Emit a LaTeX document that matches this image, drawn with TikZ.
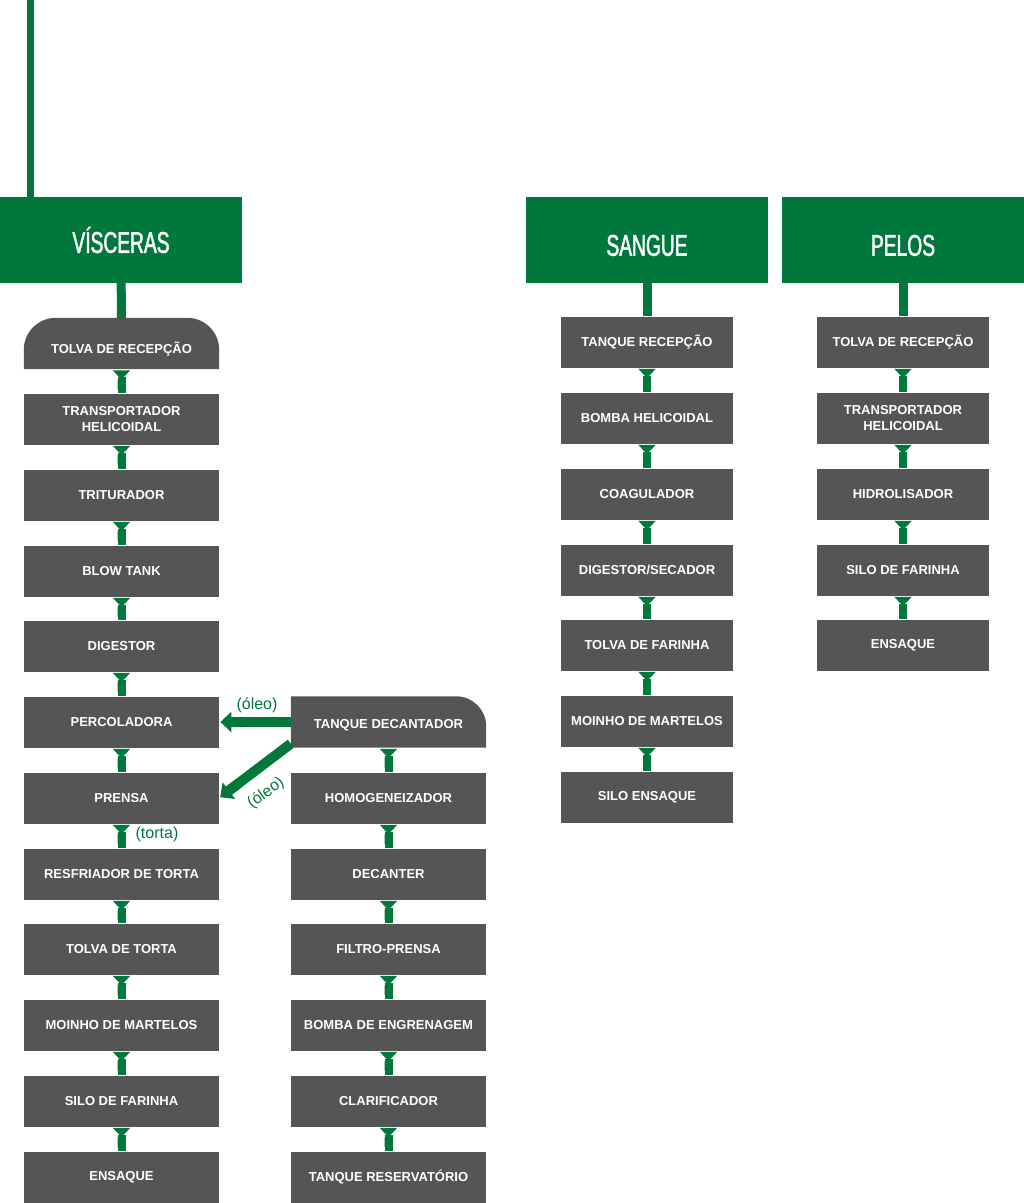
\documentclass[tikz,border=0pt]{standalone}
\usepackage{fontspec}
\setmainfont{Liberation Sans}
\newfontfamily\headfont[FakeStretch=0.64,FakeBold=1.5]{Liberation Sans}
\usetikzlibrary{arrows.meta,backgrounds}
\definecolor{headgreen}{RGB}{0,119,59}
\definecolor{boxgray}{RGB}{85,85,85}

\begin{document}
\begin{tikzpicture}[x=1pt, y=-1pt,
    head/.style={rectangle, fill=headgreen, text=white, minimum width=242pt, minimum height=86pt, inner sep=0pt, font=\headfont\fontsize{30}{32}\selectfont},
    box/.style={rectangle, fill=boxgray, text=white, minimum width=195pt, minimum height=51pt, inner sep=0pt, align=center, font=\bfseries\fontsize{13}{16}\selectfont},
    narrow/.style={box, minimum width=172pt},
    stem/.style={draw=headgreen, line width=9pt},
    link/.style={draw=headgreen, line width=8pt, {Triangle[reversed,length=9pt,width=17pt,sep=1.2pt] Triangle Cap[reversed]}-},
    oil/.style={draw=headgreen, line width=10pt, -{Triangle Cap[reversed] Triangle[length=11pt,width=20pt,sep=1.2pt]}},
    note/.style={text=headgreen, font=\fontsize{16}{18}\selectfont, inner sep=0pt}
]
\useasboundingbox (0,0) rectangle (1024,1203);

% Header boxes
\node[head] (visceras) at (121,240) {VÍSCERAS};
\node[head, text height=31.5pt, text depth=0pt] (sangue) at (647,240) {SANGUE};
\node[head, text height=31.5pt, text depth=0pt] (pelos) at (903,240) {PELOS};

% Visceras line
\node[box, fill=none, text height=22.5pt, text depth=3pt] (v1) at (121.5,343.5) {TOLVA DE RECEPÇÃO};
\node[box] (v2) at (121.5,419) {TRANSPORTADOR\\HELICOIDAL};
\node[box] (v3) at (121.5,495) {TRITURADOR};
\node[box] (v4) at (121.5,571) {BLOW TANK};
\node[box] (v5) at (121.5,646) {DIGESTOR};
\node[box] (v6) at (121.5,722) {PERCOLADORA};
\node[box] (v7) at (121.5,798) {PRENSA};
\node[box] (v8) at (121.5,874) {RESFRIADOR DE TORTA};
\node[box] (v9) at (121.5,949) {TOLVA DE TORTA};
\node[box] (v10) at (121.5,1025) {MOINHO DE MARTELOS};
\node[box] (v11) at (121.5,1101) {SILO DE FARINHA};
\node[box] (v12) at (121.5,1177) {ENSAQUE};

% Oil line
\node[box, fill=none, text height=16.5pt, text depth=3pt] (o1) at (388.5,722) {TANQUE DECANTADOR};
\node[box] (o2) at (388.5,798) {HOMOGENEIZADOR};
\node[box] (o3) at (388.5,874) {DECANTER};
\node[box] (o4) at (388.5,949) {FILTRO-PRENSA};
\node[box] (o5) at (388.5,1025) {BOMBA DE ENGRENAGEM};
\node[box] (o6) at (388.5,1101) {CLARIFICADOR};
\node[box] (o7) at (388.5,1177) {TANQUE RESERVATÓRIO};

% Sangue line
\node[narrow] (s1) at (647,342) {TANQUE RECEPÇÃO};
\node[narrow] (s2) at (647,418) {BOMBA HELICOIDAL};
\node[narrow] (s3) at (647,494) {COAGULADOR};
\node[narrow] (s4) at (647,570) {DIGESTOR/SECADOR};
\node[narrow] (s5) at (647,645) {TOLVA DE FARINHA};
\node[narrow] (s6) at (647,721) {MOINHO DE MARTELOS};
\node[narrow] (s7) at (647,797) {SILO ENSAQUE};

% Pelos line
\node[narrow] (p1) at (903,342) {TOLVA DE RECEPÇÃO};
\node[narrow] (p2) at (903,418) {TRANSPORTADOR\\HELICOIDAL};
\node[narrow] (p3) at (903,494) {HIDROLISADOR};
\node[narrow] (p4) at (903,570) {SILO DE FARINHA};
\node[narrow] (p5) at (903,645) {ENSAQUE};

% Rounded tops
\begin{scope}[on background layer]
\fill[boxgray] (v1.south west) -- ([yshift=-32pt]v1.north west) arc[start angle=180, end angle=90, radius=32pt]
    -- ([xshift=-32pt]v1.north east) arc[start angle=90, end angle=0, radius=32pt] -- (v1.south east) -- cycle;
\fill[boxgray] (o1.south west) -- (o1.north west) -- ([xshift=-30pt]o1.north east)
    arc[start angle=90, end angle=0, radius=30pt] -- (o1.south east) -- cycle;
\end{scope}

% Feed line and stems
\coordinate (feed) at (30.5,0);
\draw[headgreen, line width=7pt] (feed) -- (feed |- visceras.north);
\draw[stem] (visceras) -- (v1);
\draw[stem] (sangue) -- (s1);
\draw[stem] (pelos) -- (p1);

% Links
\foreach \a/\b in {v1/v2, v2/v3, v3/v4, v4/v5, v5/v6, v6/v7, v7/v8, v8/v9, v9/v10, v10/v11, v11/v12,
    o1/o2, o2/o3, o3/o4, o4/o5, o5/o6, o6/o7,
    s1/s2, s2/s3, s3/s4, s4/s5, s5/s6, s6/s7,
    p1/p2, p2/p3, p3/p4, p4/p5}
  \draw[link] (\a) -- (\b);

% Oil returns
\draw[oil] (o1.west) -- (v6.east);
\draw[oil] ([yshift=4pt]o1.south west) -- (v7.east);

% Labels
\node[note] (oleoa) at (257,705) {(óleo)};
\node[note, rotate=36] (oleob) at (266,793) {(óleo)};
\node[note] (torta) at (157,834) {(torta)};

\end{tikzpicture}
\end{document}
